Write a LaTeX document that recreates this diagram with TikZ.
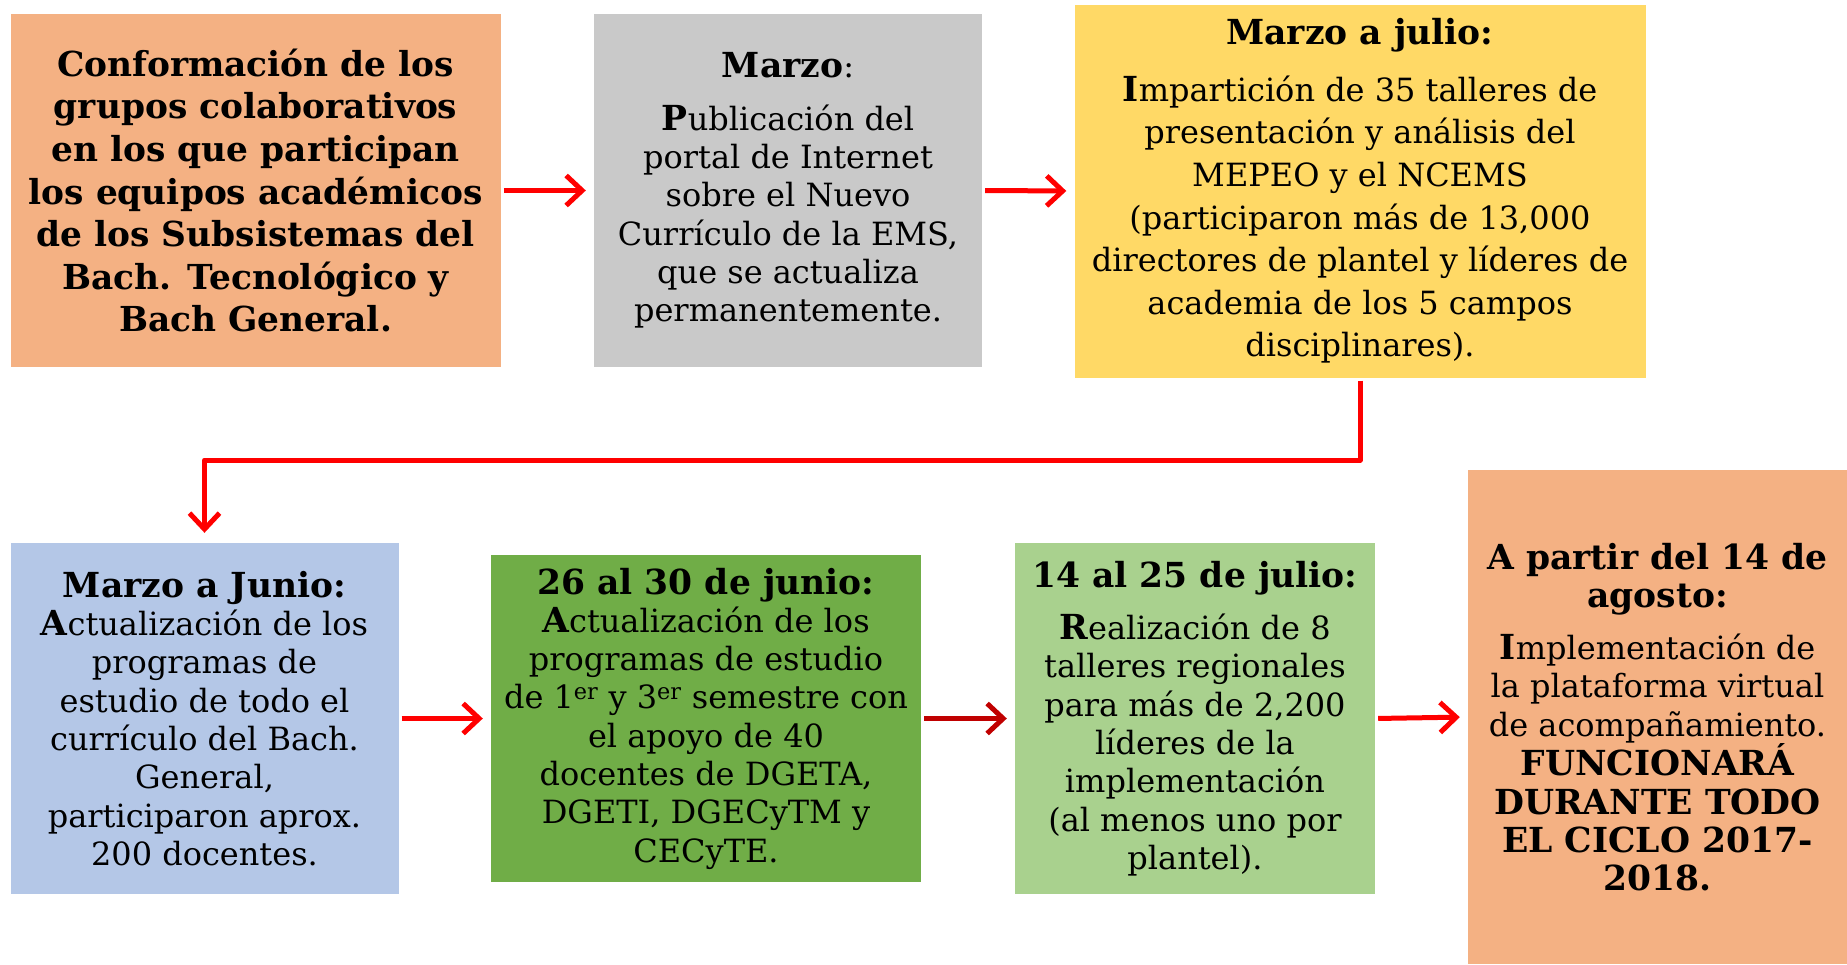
\documentclass[tikz,border=0pt]{standalone}
\usepackage{fontspec}
\setmainfont{DejaVu Serif}
\usetikzlibrary{arrows.meta}
\definecolor{naranja}{HTML}{F4B183}
\definecolor{gris}{HTML}{C9C9C9}
\definecolor{amarillo}{HTML}{FFD966}
\definecolor{azul}{HTML}{B4C7E7}
\definecolor{verdeosc}{HTML}{70AD47}
\definecolor{verdecla}{HTML}{A9D18E}
\definecolor{rojoosc}{HTML}{C00000}
\newcommand\negrita[1]{{\bfseries\fontsize{34.5}{38.3}\selectfont #1}}
\begin{document}
\begin{tikzpicture}[x=1pt,y=-1pt,line join=round,
  caja/.style={fill=#1,inner sep=0pt,align=center,font=\fontsize{32}{38.3}\selectfont},
  cajag/.style={caja=#1,font=\fontsize{32}{42.6}\selectfont},
  flecha/.style={draw=red,line width=5pt,shorten <=3pt,shorten >=8pt,-{Straight Barb[length=16pt,width=30pt]}}]
\useasboundingbox (0,0) rectangle (1847,964);

\node[cajag=naranja,minimum width=490pt,minimum height=353pt,font=\bfseries\fontsize{34.4}{42.6}\selectfont] (grupos) at (255.6,190.5)
  {Conformación de los\\grupos colaborativos\\en los que participan\\los equipos académicos\\de los Subsistemas del\\Bach. Tecnológico y\\Bach General.};
\node[caja=gris,minimum width=388pt,minimum height=353pt] (portal) at (788,190.5)
  {\negrita{Marzo}:\\[14pt]\negrita{P}ublicación del\\portal de Internet\\sobre el Nuevo\\Currículo de la EMS,\\que se actualiza\\permanentemente.};
\node[cajag=amarillo,minimum width=571pt,minimum height=373pt] (talleres) at (1360,191)
  {\negrita{Marzo a julio:}\\[14pt]\negrita{I}mpartición de 35 talleres de\\presentación y análisis del\\MEPEO y el NCEMS\\(participaron más de 13,000\\directores de plantel y líderes de\\academia de los 5 campos\\disciplinares).};
\node[caja=azul,minimum width=388pt,minimum height=351pt] (programas) at (204.5,718.5)
  {\negrita{Marzo a Junio:}\\\negrita{A}ctualización de los\\programas de\\estudio de todo el\\currículo del Bach.\\General,\\participaron aprox.\\200 docentes.};
\node[caja=verdeosc,minimum width=430pt,minimum height=327pt] (semestres) at (706,718.5)
  {\negrita{26 al 30 de junio:}\\\negrita{A}ctualización de los\\programas de estudio\\de 1\textsuperscript{er} y 3\textsuperscript{er} semestre con\\el apoyo de 40\\docentes de DGETA,\\DGETI, DGECyTM y\\CECyTE.};
\node[caja=verdecla,minimum width=360pt,minimum height=351pt] (regionales) at (1195,718.5)
  {\negrita{14 al 25 de julio:}\\[14pt]\negrita{R}ealización de 8\\talleres regionales\\para más de 2,200\\líderes de la\\implementación\\(al menos uno por\\plantel).};
\node[caja=naranja,minimum width=379pt,minimum height=494pt] (plataforma) at (1657.5,717)
  {\negrita{A partir del 14 de}\\\negrita{agosto:}\\[14pt]\negrita{I}mplementación de\\la plataforma virtual\\de acompañamiento.\\\negrita{FUNCIONARÁ}\\\negrita{DURANTE TODO}\\\negrita{EL CICLO 2017-}\\\negrita{2018.}};

\coordinate (codo) at (1360,460);
\draw[flecha] (grupos.east) -- (portal.west);
\draw[flecha] (portal.east) -- (talleres.west);
\draw[flecha,shorten >=10pt] (talleres.south) -- (codo) -| (programas.north);
\draw[flecha] (programas.east) -- (semestres.west);
\draw[flecha,draw=rojoosc] (semestres.east) -- (regionales.west);
\draw[flecha] (regionales.east) -- (plataforma.west);
\end{tikzpicture}
\end{document}
